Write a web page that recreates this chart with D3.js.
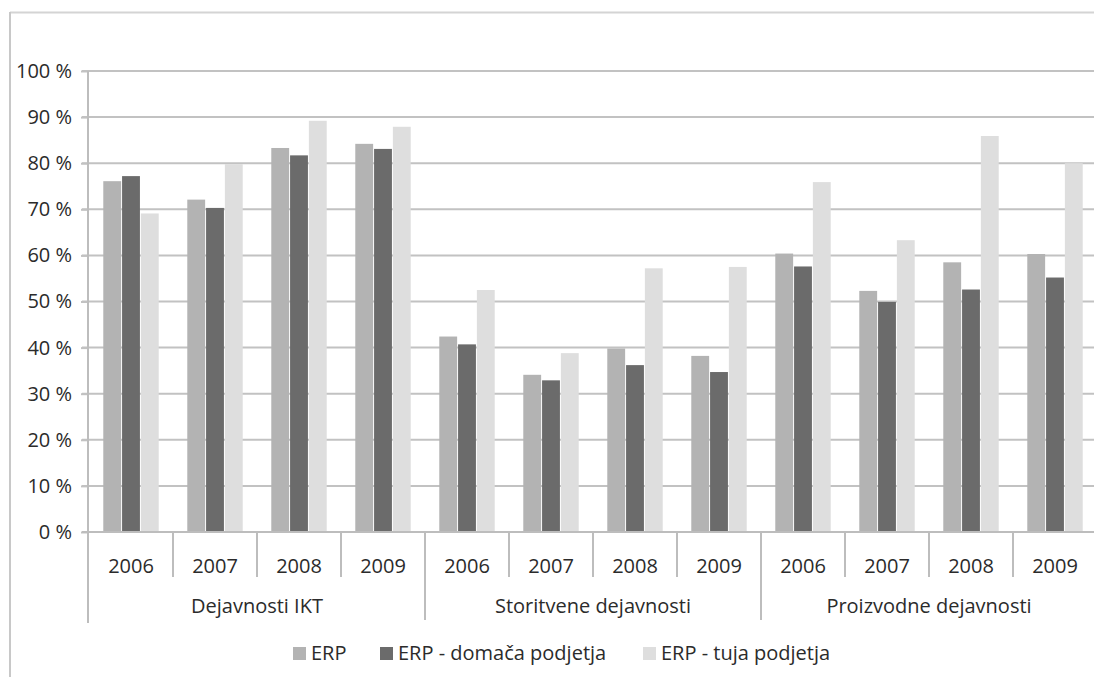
<html>
<head>
    <meta charset="utf-8">
    <title>ERP</title>
    <script src="https://d3js.org/d3.v7.min.js"></script>
    <style>
        body { margin: 0; background: #fff; }
        text { font-family: "Open Sans", sans-serif; fill: #2b2b2b; }
    </style>
</head>
<body>
    <div id="chart"></div>
    <script>
        // data
        var groups = ["Dejavnosti IKT", "Storitvene dejavnosti", "Proizvodne dejavnosti"];
        var years = ["2006", "2007", "2008", "2009"];
        var series = ["ERP", "ERP - domača podjetja", "ERP - tuja podjetja"];
        var colors = ["#b3b3b3", "#6b6b6b", "#dedede"];
        var yTicks = [0, 10, 20, 30, 40, 50, 60, 70, 80, 90, 100];

        var erp      = [76.1, 72.1, 83.3, 84.2, 42.4, 34.1, 39.8, 38.2, 60.4, 52.3, 58.5, 60.3];
        var erpDom   = [77.2, 70.3, 81.7, 83.1, 40.7, 32.9, 36.2, 34.7, 57.6, 49.9, 52.6, 55.2];
        var erpTuja  = [69.1, 79.8, 89.2, 87.9, 52.5, 38.8, 57.2, 57.5, 75.9, 63.3, 85.9, 80.0];
        var values = [erp, erpDom, erpTuja];

        function draw() {
            var width = 1094, height = 677;
            var left = 89, right = 1097, plotTop = 71, bottom = 532;

            var svg = d3.select("#chart").append("svg")
                .attr("width", width)
                .attr("height", height);

            // outer frame (top and left edges visible)
            svg.append("line").attr("x1", 10).attr("x2", width).attr("y1", 12.5).attr("y2", 12.5)
                .attr("stroke", "#d4d4d4").attr("stroke-width", 2);
            svg.append("line").attr("x1", 10).attr("x2", 10).attr("y1", 12).attr("y2", height)
                .attr("stroke", "#c8c8c8").attr("stroke-width", 2);

            var keys = [];
            groups.forEach(function(g) {
                years.forEach(function(y) { keys.push(g + "|" + y); });
            });

            var x0 = d3.scaleBand().domain(keys).range([left, right]).padding(0);
            var x1 = d3.scaleBand().domain(series)
                .range([x0.bandwidth() * 0.17, x0.bandwidth() * 0.83])
                .paddingInner(0.05);
            var y = d3.scaleLinear().domain([0, 100]).range([bottom, plotTop]);

            // gridlines
            svg.append("g").selectAll("line")
                .data(yTicks)
                .enter().append("line")
                .attr("x1", left - 7)
                .attr("x2", width)
                .attr("y1", function(d) { return y(d); })
                .attr("y2", function(d) { return y(d); })
                .attr("stroke", "#c2c2c2")
                .attr("stroke-width", 2);

            // y axis labels
            var yAxis = svg.append("g")
                .attr("transform", "translate(" + (left - 1) + ",0)")
                .call(d3.axisLeft(y).tickValues(yTicks).tickSize(7).tickPadding(9)
                    .tickFormat(function(d) { return d + " %"; }));
            yAxis.select(".domain").remove();
            yAxis.selectAll(".tick line").attr("stroke", "#c2c2c2").attr("stroke-width", 2);
            yAxis.selectAll("text").style("font-size", "20px").attr("fill", "#2b2b2b");

            // bars
            var bars = svg.append("g");
            keys.forEach(function(k, i) {
                series.forEach(function(s, j) {
                    bars.append("rect")
                        .attr("x", x0(k) + x1(s))
                        .attr("y", y(values[j][i]))
                        .attr("width", x1.bandwidth())
                        .attr("height", bottom - y(values[j][i]))
                        .attr("fill", colors[j]);
                });
            });

            // baseline + y axis line
            svg.append("line").attr("x1", left - 7).attr("x2", width).attr("y1", bottom).attr("y2", bottom)
                .attr("stroke", "#bdbdbd").attr("stroke-width", 2);
            svg.append("line").attr("x1", left - 1).attr("x2", left - 1).attr("y1", plotTop).attr("y2", 623)
                .attr("stroke", "#bdbdbd").attr("stroke-width", 2);

            // year separators and labels
            var sep = svg.append("g");
            keys.forEach(function(k, i) {
                var xs = x0(k);
                var isGroupEdge = (i % years.length === 0);
                if (i > 0) {
                    sep.append("line").attr("x1", xs).attr("x2", xs)
                        .attr("y1", bottom).attr("y2", isGroupEdge ? 620 : 577)
                        .attr("stroke", "#bdbdbd").attr("stroke-width", 2);
                }
                sep.append("text")
                    .attr("x", xs + x0.bandwidth() / 2)
                    .attr("y", 573)
                    .attr("text-anchor", "middle")
                    .style("font-size", "20px")
                    .text(k.split("|")[1]);
            });

            // group labels
            groups.forEach(function(g) {
                var xa = x0(g + "|" + years[0]);
                var xb = x0(g + "|" + years[years.length - 1]) + x0.bandwidth();
                svg.append("text")
                    .attr("x", (xa + xb) / 2)
                    .attr("y", 613)
                    .attr("text-anchor", "middle")
                    .style("font-size", "20px")
                    .text(g);
            });

            // legend
            var legendX = [293, 380, 643];
            var legend = svg.append("g");
            series.forEach(function(s, i) {
                legend.append("rect")
                    .attr("x", legendX[i])
                    .attr("y", 647)
                    .attr("width", 13)
                    .attr("height", 13)
                    .attr("fill", colors[i]);
                legend.append("text")
                    .attr("x", legendX[i] + 18)
                    .attr("y", 660)
                    .style("font-size", "20px")
                    .text(s);
            });
        }

        draw();
    </script>
</body>
</html>
